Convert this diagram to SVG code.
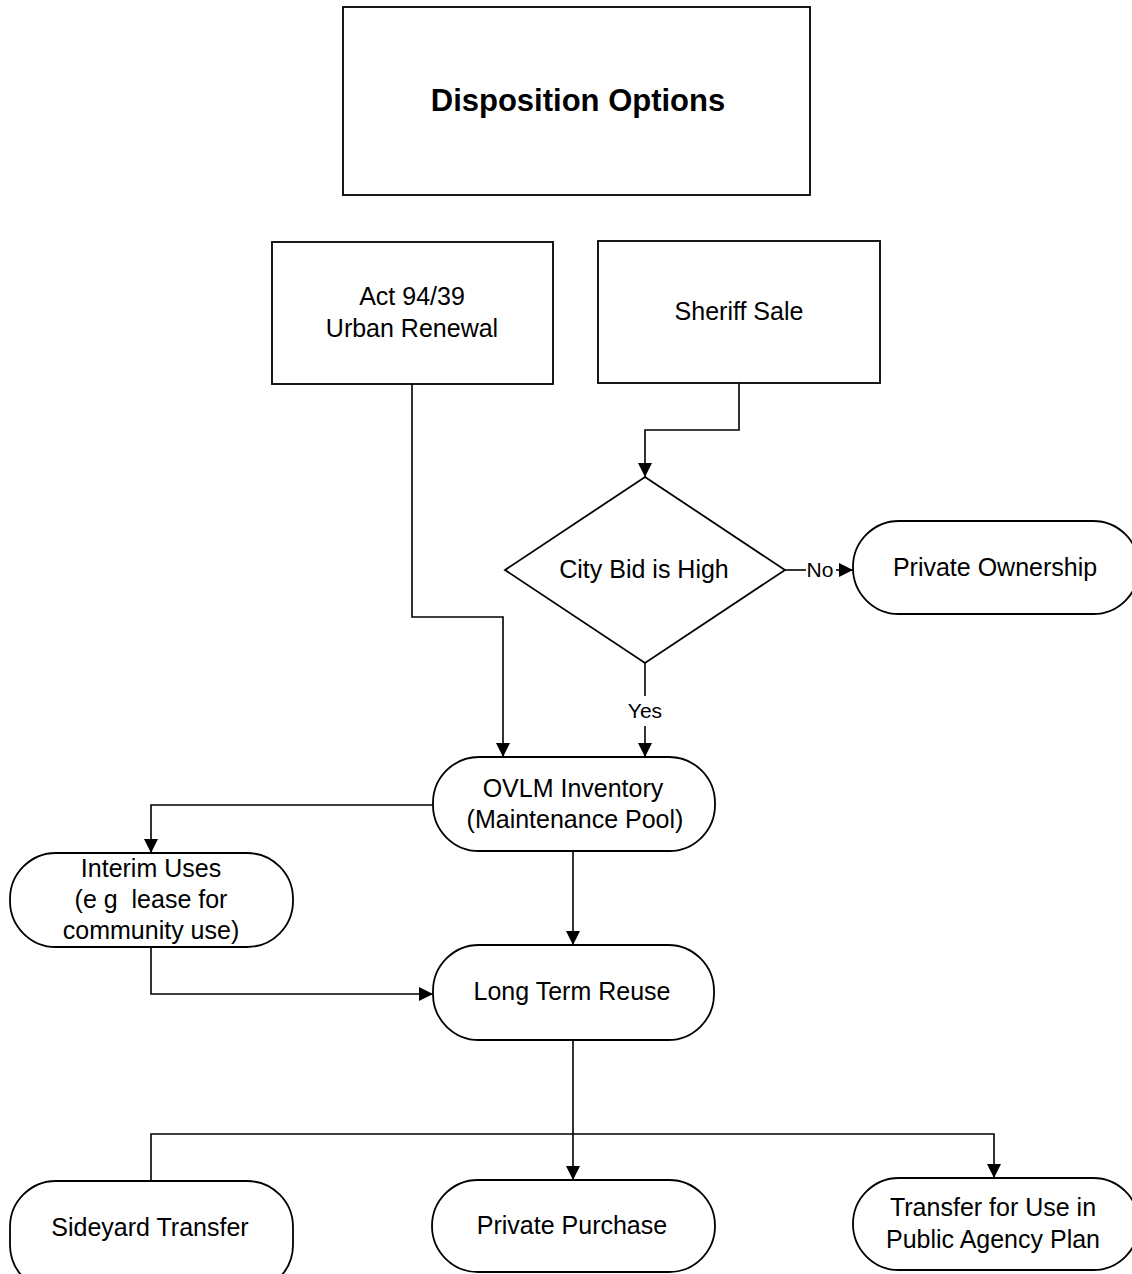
<svg xmlns="http://www.w3.org/2000/svg" width="1132" height="1274" viewBox="0 0 1132 1274">
<style>
.box{fill:#fff;stroke:#000;stroke-width:1.8}
.t{font-family:"Liberation Sans",Arial,sans-serif;font-size:25px;text-anchor:middle;fill:#000}
.s{font-family:"Liberation Sans",Arial,sans-serif;font-size:21px;text-anchor:middle;fill:#000}
.c{fill:none;stroke:#000;stroke-width:1.6}
</style>
<defs>
<marker id="ab" viewBox="0 0 10 10" refX="10" refY="5" markerWidth="14" markerHeight="14" markerUnits="userSpaceOnUse" orient="auto"><path d="M0,0 L10,5 L0,10 z" fill="#000"/></marker>
</defs>
<rect width="1132" height="1274" fill="#fff"/>
<g id="connectors">
<path class="c" d="M739,383 V430 H645 V477" marker-end="url(#ab)"/>
<path class="c" d="M412,384 V617 H503 V757" marker-end="url(#ab)"/>
<path class="c" d="M785,570 H806"/>
<path class="c" d="M836,570 H853" marker-end="url(#ab)"/>
<text class="s" x="820" y="577">No</text>
<path class="c" d="M645,663 V696"/>
<path class="c" d="M645,726 V757" marker-end="url(#ab)"/>
<text class="s" x="645" y="718">Yes</text>
<path class="c" d="M433,805 H151 V853" marker-end="url(#ab)"/>
<path class="c" d="M573,851 V945" marker-end="url(#ab)"/>
<path class="c" d="M151,947 V994 H433" marker-end="url(#ab)"/>
<path class="c" d="M573,1040 V1180" marker-end="url(#ab)"/>
<path class="c" d="M151,1181 V1134 H994 V1178" marker-end="url(#ab)"/>
</g>
<g id="title">
<rect class="box" x="343" y="7" width="467" height="188"/>
<text class="t" x="578" y="111" style="font-weight:bold;font-size:31px">Disposition Options</text>
</g>
<g id="act">
<rect class="box" x="272" y="242" width="281" height="142"/>
<text class="t" x="412" y="305">Act 94/39</text>
<text class="t" x="412" y="337">Urban Renewal</text>
</g>
<g id="sheriff">
<rect class="box" x="598" y="241" width="282" height="142"/>
<text class="t" x="739" y="320">Sheriff Sale</text>
</g>
<g id="decision">
<polygon class="box" points="645,477 785,570 645,663 505,570"/>
<text class="t" x="644" y="578">City Bid is High</text>
</g>
<g id="private-ownership">
<rect class="box" x="853" y="521" width="286" height="93" rx="46" ry="46"/>
<text class="t" x="995" y="576">Private Ownership</text>
</g>
<g id="ovlm">
<rect class="box" x="433" y="757" width="282" height="94" rx="46" ry="46"/>
<text class="t" x="573" y="797">OVLM Inventory</text>
<text class="t" x="575" y="828">(Maintenance Pool)</text>
</g>
<g id="interim">
<rect class="box" x="10" y="853" width="283" height="94" rx="46" ry="46"/>
<text class="t" x="151" y="877">Interim Uses</text>
<text class="t" x="151" y="908">(e g&#160; lease for</text>
<text class="t" x="151" y="939">community use)</text>
</g>
<g id="long-term">
<rect class="box" x="433" y="945" width="281" height="95" rx="46" ry="46"/>
<text class="t" x="572" y="1000">Long Term Reuse</text>
</g>
<g id="sideyard">
<rect class="box" x="10" y="1181" width="283" height="110" rx="46" ry="46"/>
<text class="t" x="150" y="1236">Sideyard Transfer</text>
</g>
<g id="private-purchase">
<rect class="box" x="432" y="1180" width="283" height="92" rx="46" ry="46"/>
<text class="t" x="572" y="1234">Private Purchase</text>
</g>
<g id="public-agency">
<rect class="box" x="853" y="1178" width="286" height="92" rx="46" ry="46"/>
<text class="t" x="993" y="1216">Transfer for Use in</text>
<text class="t" x="993" y="1248">Public Agency Plan</text>
</g>
</svg>
